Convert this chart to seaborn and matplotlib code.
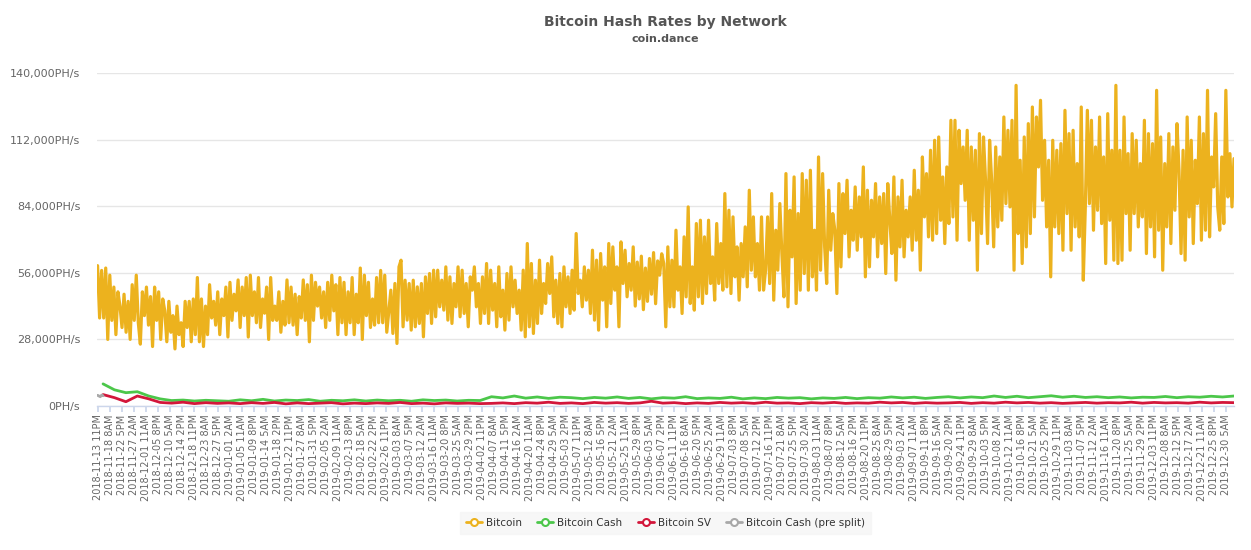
import numpy as np
import pandas as pd
import matplotlib
matplotlib.use("Agg")
import matplotlib.pyplot as plt
import seaborn as sns
from matplotlib.ticker import FuncFormatter
from matplotlib.lines import Line2D

# ---------------- data (hash rates in thousand PH/s) ----------------
START = "2018-11-13 23:00"
END_HOURS = 9940          # span of the series in hours
LABEL_STEP_HOURS = 105    # category label step

btc_seg1 = [59, 37, 57, 37, 58, 28, 55, 36, 50, 30, 48, 42, 33, 47, 31, 44, 28, 51, 36, 55,
            35, 26, 48, 38, 50, 34, 46, 25, 50, 36, 48, 28, 45, 40, 27, 44, 31, 38, 24, 42,
            30, 35, 25, 44, 33, 44, 27, 45, 30, 54, 27, 45, 25, 42, 30, 51, 37, 44, 34, 48,
            30, 45, 38, 50, 29, 52, 36, 47, 40, 53, 33, 50, 38, 54, 29, 55, 38, 48, 35, 54,
            33, 45, 39, 50, 28, 54, 36, 42, 36, 48, 31, 44, 34, 53, 35, 50, 34, 47, 30, 46,
            37, 53, 36, 51, 27, 55, 36, 52, 42, 50, 37, 48, 33, 52, 36, 55, 40, 51, 30, 54,
            35, 52, 30, 48, 35, 54, 30, 47, 35, 58, 28, 55, 38, 52, 33, 45, 34, 54, 35, 57,
            35, 55, 31, 40]
btc_seg2 = [48.7, 30.5, 51.5, 26.3, 58.5, 61.3, 33.3, 52.9, 36.1, 51.5, 31.9, 52.9, 33.3, 50.1,
            34.7, 51.5, 29.1, 54.3, 38.9, 55.7, 34.7, 57.1, 37.5, 57.1, 41.7, 52.9, 40.3, 58.5,
            36.1, 54.3, 34.7, 51.5, 41.7, 58.5, 37.5, 57.1, 38.9, 51.5, 33.3, 54.3, 48.7, 58.5,
            41.7, 51.5, 34.7, 54.3, 38.9, 59.9, 34.7, 57.1, 40.3, 51.5, 33.3, 58.5, 37.5, 48.7,
            31.9, 55.7, 36.1, 58.5, 41.7, 52.9, 38.9, 48.7, 31.9, 57.1, 29.1, 68.3, 33.3, 59.9,
            30.5, 52.9, 34.7, 61.3, 38.9, 51.5, 43.1, 59.9, 47.3, 62.7, 37.5, 52.9, 34.7, 55.7,
            33.3, 58.5, 41.7, 54.3, 38.9, 57.1, 40.3, 72.5, 47.3, 52.9, 41.7, 58.5, 44.5, 57.1,
            38.9, 65.5, 36.1, 61.3, 31.9, 64.1, 44.5, 58.5, 33.3, 68.3, 43.1, 66.9, 48.7, 58.5,
            33.3, 69.0, 51.5, 65.5, 45.9, 59.9, 48.7, 66.9, 42.0, 60.5, 45.0, 63.0, 40.5, 58.0,
            44.0, 62.0, 47.0, 64.5, 43.0, 61.0, 55.0, 64.0]
btc_seg3 = [59.9, 33.3, 66.9, 41.7, 61.3, 41.7, 73.9, 48.7, 58.5, 38.9, 71.1, 45.9, 83.7, 43.1,
            58.5, 40.3, 76.7, 45.9, 78.1, 43.1, 71.1, 47.3, 78.1, 51.5, 62.7, 44.5, 76.7, 51.5,
            68.3, 48.7, 89.3, 50.1, 82.3, 47.3, 79.5, 54.3, 66.9, 44.5, 68.3, 54.3, 75.3, 50.1,
            90.7, 57.1, 79.5, 54.3, 68.3, 48.7, 79.5, 48.7, 57.1, 79.5, 51.5, 89.3, 44.5, 73.9,
            57.1, 85.1, 64.1, 45.9, 97.7, 41.7, 82.3, 62.7, 96.3, 43.1, 80.9, 48.7, 97.7, 55.7,
            94.9, 48.7, 99.1, 54.3, 73.9, 48.7, 104.7, 57.1, 97.7, 66.9, 51.5, 90.7, 65.5, 80.9,
            73.9, 47.3, 93.5, 58.5, 89.3, 72.5, 94.9, 62.7, 82.3, 69.7, 92.1, 65.5, 87.9, 71.1,
            100.5, 54.3, 90.7, 58.5, 86.5, 71.1, 93.5, 62.7, 87.9, 68.3, 89.3, 55.7, 93.5, 78.1,
            64.1, 96.3, 52.9, 87.9, 66.9, 94.9, 62.7, 82.3, 71.1, 87.9, 65.5, 99.1, 69.7, 90.7,
            57.1, 104.7, 79.5, 97.7, 71.1, 107.5, 69.7, 111.7, 72.5, 113.1, 78.1, 96.3, 68.3,
            100.5, 76.7, 120.1, 79.5, 120.1, 69.7, 115.9, 93.5, 108.9, 86.5]
btc_seg4 = [115.9, 69.7, 108.9, 78.1, 107.5, 57.1, 114.5, 72.5, 113.1, 94.9, 68.3, 111.7, 94.9,
            66.9, 108.9, 75.3, 104.7, 78.1, 121.5, 85.1, 115.9, 83.7, 120.1, 57.1, 134.8, 72.5,
            103.3, 59.9, 113.1, 66.9, 118.7, 72.5, 125.7, 79.5, 121.5, 100.5, 128.5, 86.5, 111.7,
            75.3, 103.3, 54.3, 111.7, 75.3, 107.5, 72.5, 110.3, 65.5, 124.3, 80.9, 114.5, 65.5,
            115.9, 75.3, 101.9, 71.1, 125.7, 52.9, 83.7, 124.3, 85.1, 120.1, 73.9, 108.9, 82.3,
            121.5, 76.7, 104.7, 59.9, 122.9, 78.1, 107.5, 61.3, 134.8, 59.9, 107.5, 61.3, 121.5,
            80.9, 106.1, 65.5, 114.5, 80.9, 111.7, 75.3, 101.9, 79.5, 120.1, 64.1, 114.5, 75.3,
            110.3, 62.7, 132.7, 73.9, 113.1, 57.1, 101.9, 75.3, 114.5, 68.3, 108.9, 82.3, 118.7,
            99.1, 64.1, 107.5, 61.3, 121.5, 79.5, 111.7, 68.3, 103.3, 85.1, 121.5, 69.7, 114.5,
            73.9, 132.7, 71.1, 104.7, 92.1, 122.9, 83.7, 73.9, 104.7, 76.7, 132.7, 87.9, 106.1,
            83.7, 104.0]
bitcoin = btc_seg1 + btc_seg2 + btc_seg3 + btc_seg4

bch_pre_split = [4.5, 4.2, 3.9, 4.6, 4.3]
bch_pre_split_end = 48

bitcoin_cash = [9.3, 6.8, 5.6, 6.0, 4.2, 3.0, 2.3, 2.5, 2.1, 2.4, 2.2,
                2.0, 2.6, 2.2, 2.8, 2.1, 2.5, 2.3, 2.7, 2.0, 2.4, 2.2, 2.6, 2.1, 2.5, 2.2, 2.4,
                2.0, 2.6, 2.3, 2.5, 2.1, 2.4, 2.3,
                3.9, 3.4, 4.2, 3.3, 3.8, 3.2, 3.7, 3.5, 3.1, 3.6, 3.3, 3.8, 3.2, 3.6, 3.0, 3.5,
                3.3, 3.9, 3.1, 3.4, 3.2, 3.7, 3.0, 3.4, 3.1, 3.6, 3.3, 3.5, 3.0, 3.4, 3.2, 3.6,
                3.1, 3.5, 3.3, 3.8, 3.4, 3.7, 3.2, 3.6, 3.9, 3.4, 3.8, 3.5, 4.2, 3.6, 4.1, 3.5,
                3.9, 4.3, 3.7, 4.1, 3.6, 3.9, 3.5, 3.8, 3.4, 3.7, 3.6, 4.0, 3.5, 3.9, 3.7, 4.1,
                3.8, 4.2]
bitcoin_sv = [4.8, 3.5, 1.8, 4.2, 3.0, 1.5, 1.2, 1.6, 1.0, 1.4, 1.1,
              1.3, 1.0, 1.4, 1.1, 1.5, 0.9, 1.3, 1.0, 1.2, 1.4, 0.9, 1.2, 1.0, 1.3, 1.1, 1.5,
              1.0, 1.2, 0.9, 1.3, 1.1, 1.2, 1.0,
              1.1, 1.3, 1.0, 1.4, 1.2, 1.6, 1.1, 1.3, 1.0, 1.5, 1.2, 1.4, 1.1, 1.3, 2.0, 1.2,
              1.4, 1.0, 1.3, 1.1, 1.5, 1.2, 1.4, 1.1, 1.6, 1.2, 1.3, 1.0, 1.4, 1.2, 1.5, 1.1,
              1.3, 1.2, 1.6, 1.3, 1.5, 1.1, 1.4, 1.2, 1.3, 1.5, 1.1, 1.4, 1.2, 1.6, 1.3, 1.5,
              1.2, 1.4, 1.1, 1.3, 1.5, 1.2, 1.4, 1.3, 1.6, 1.2, 1.5, 1.3, 1.4, 1.2, 1.6, 1.3,
              1.5, 1.4]

series_names = ["Bitcoin", "Bitcoin Cash", "Bitcoin SV", "Bitcoin Cash (pre split)"]
series_colors = ["#ECB21E", "#4CC74A", "#D3163A", "#A8A8A8"]

# ---------------- build long table ----------------
def frame(name, vals, t0, t1):
    hours = np.linspace(t0, t1, len(vals))
    return pd.DataFrame({"hour": hours, "rate": np.array(vals) * 1000.0, "network": name})

df = pd.concat([
    frame("Bitcoin", bitcoin, 0, END_HOURS),
    frame("Bitcoin Cash", bitcoin_cash, bch_pre_split_end, END_HOURS),
    frame("Bitcoin SV", bitcoin_sv, bch_pre_split_end, END_HOURS),
    frame("Bitcoin Cash (pre split)", bch_pre_split, 0, bch_pre_split_end),
], ignore_index=True)

# tick labels
tick_times = pd.date_range(START, "2019-12-30 05:00", freq=f"{LABEL_STEP_HOURS}h")
tick_hours = [(t - pd.Timestamp(START)).total_seconds() / 3600 for t in tick_times]
def fmt_label(t):
    h = t.hour % 12
    h = 12 if h == 0 else h
    return f"{t:%Y-%m-%d} {h}{'AM' if t.hour < 12 else 'PM'}"
tick_labels = [fmt_label(t) for t in tick_times]

# ---------------- plot ----------------
sns.set_theme(style="white")
plt.rcParams['font.family'] = ['DejaVu Sans']

W, H = 1251, 550
fig = plt.figure(figsize=(W / 100, H / 100), dpi=100)
ax = fig.add_axes([97 / W, 1 - 406 / H, (1234 - 97) / W, 333 / H])

widths = {"Bitcoin": 2.3, "Bitcoin Cash": 2.0, "Bitcoin SV": 2.0, "Bitcoin Cash (pre split)": 2.0}
for name, col in zip(series_names, series_colors):
    sub = df[df.network == name]
    sns.lineplot(data=sub, x="hour", y="rate", color=col, lw=widths[name],
                 estimator=None, sort=False, ax=ax, legend=False)

ax.set_xlim(-5, END_HOURS)
ax.set_ylim(0, 140000)
ax.set_yticks(np.arange(0, 140001, 28000))
ax.yaxis.set_major_formatter(FuncFormatter(lambda v, p: f"{int(v):,}PH/s"))
ax.set_xticks(tick_hours)
ax.set_xticklabels(tick_labels, rotation=90, fontsize=7, color="#666666")
ax.tick_params(axis="y", labelsize=8, labelcolor="#666666", length=0, pad=12)
ax.tick_params(axis="x", length=4, color="#ccd6eb", pad=2, bottom=True)
ax.set_xlabel("")
ax.set_ylabel("")
ax.grid(axis="y", color="#e6e6e6", lw=1)
ax.grid(axis="x", visible=False)
for s in ["top", "right", "left"]:
    ax.spines[s].set_visible(False)
ax.spines["bottom"].set_color("#ccd6eb")
ax.spines["bottom"].set_linewidth(1)

cx = (97 + 1234) / 2 / W
fig.text(cx, 1 - 22 / H, "Bitcoin Hash Rates by Network", ha="center", va="center",
         fontsize=10, fontweight="bold", color="#555555")
fig.text(cx, 1 - 39 / H, "coin.dance", ha="center", va="center",
         fontsize=8, fontweight="bold", color="#555555")

handles = [Line2D([0], [0], color=c, lw=2, marker="o", markersize=5,
                  markerfacecolor="white", markeredgecolor=c, markeredgewidth=1.5)
           for c in series_colors]
leg = fig.legend(handles, series_names, loc="center", bbox_to_anchor=(cx, 1 - 523 / H),
                 ncol=4, frameon=True, fontsize=7.5, handlelength=1.5, handletextpad=0.4,
                 columnspacing=1.5, borderpad=0.6, labelcolor="#333333")
leg.get_frame().set_facecolor("#f5f5f5")
leg.get_frame().set_edgecolor("#f5f5f5")
leg.get_frame().set_boxstyle("square", pad=0)

fig.savefig("out.png", dpi=100, facecolor="white")
